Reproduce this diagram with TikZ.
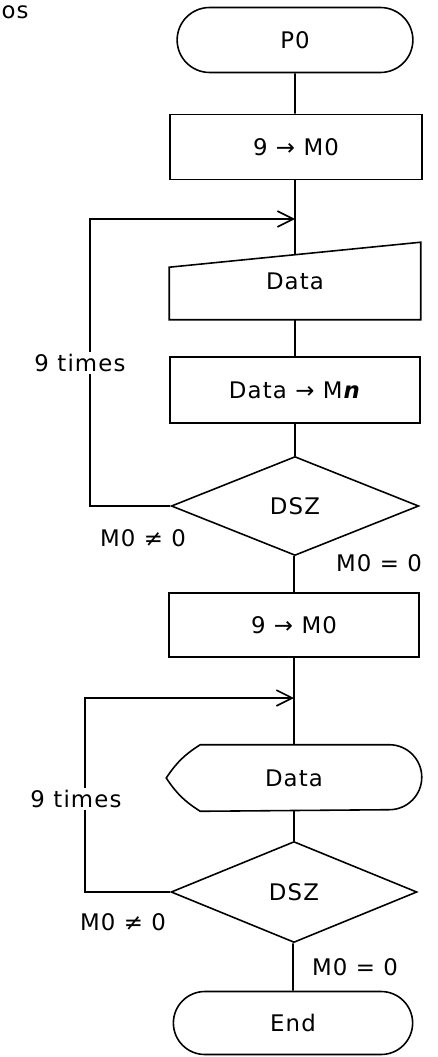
\documentclass[tikz,border=0pt]{standalone}
\usepackage{fontspec}
\setmainfont[LetterSpace=5]{DejaVu Sans}
\usetikzlibrary{arrows.meta, shapes.geometric, shapes.misc, calc}

\begin{document}
\begin{tikzpicture}[x=0.02cm, y=-0.02cm, line width=0.9pt,
    font=\fontsize{13}{15}\selectfont,
    >={Straight Barb[length=9pt, width=9pt]},
    term/.style={draw, rounded rectangle, minimum width=4.95cm, minimum height=1.3cm},
    proc/.style={draw, rectangle, minimum width=5cm, minimum height=1.3cm},
    dec/.style={draw, diamond, inner sep=0pt, minimum width=4.95cm, minimum height=1.98cm},
    lbl/.style={inner sep=1pt}]
  \useasboundingbox (0,0) rectangle (438,1057);

  % fragment of a title, cut off at the border
  \node[lbl, anchor=west] (os) at (-1,12) {os};

  % main column
  \node[term] (p0) at (295,40) {P0};
  \node[proc, minimum width=5.04cm] (set1) at (296,147) {9 → M0};
  \coordinate (j1) at (295,219);
  \node[minimum width=5cm, minimum height=1.52cm] (data1) at (295,281) {Data};
  \draw (data1.south west) -- (data1.south east) -- (data1.north east)
    -- ([yshift=-0.5cm]data1.north west) -- cycle;
  \node[proc, minimum height=1.32cm] (store) at (295,390) {Data → M\textbf{\textit{n}}};
  \node[dec] (dsz1) at (295,506) {DSZ};
  \node[proc, minimum height=1.28cm] (set2) at (294,625) {9 → M0};
  \coordinate (j2) at (294,698);
  \node[minimum width=5.08cm, minimum height=1.3cm] (data2) at (294,778) {Data};
  \draw ([xshift=0.68cm]data2.north west) -- ([xshift=-0.65cm]data2.north east)
    arc[start angle=90, end angle=-90, radius=0.65cm]
    -- ([xshift=0.68cm]data2.south west) to[bend left=12] (data2.west)
    to[bend left=12] cycle;
  \node[dec, minimum width=4.92cm, minimum height=2.02cm] (dsz2) at (294,892) {DSZ};
  \node[term, minimum width=5.02cm, minimum height=1.26cm] (end) at (293,1023) {End};

  % connectors
  \draw (p0) -- (p0 |- set1.north);
  \draw (set1.south -| j1) -- (j1) -- ([yshift=-0.25cm]data1.north);
  \draw (data1) -- (store);
  \draw (store) -- (dsz1);
  \draw (dsz1.south -| set2) -- (set2);
  \draw (set2) -- (j2) -- (data2);
  \draw (data2) -- (dsz2);
  \draw (dsz2.south -| end) -- (end);

  % loops back
  \coordinate (lp1) at (90,219);
  \coordinate (lp2) at (85,698);
  \draw[->] (dsz1.west) -| (lp1) -- (j1);
  \draw[->] (dsz2.west) -| (lp2) -- (j2);
  \node[lbl, fill=white] (n1) at (80,363) {9 times};
  \node[lbl, fill=white] (n2) at (76,799) {9 times};

  % branch labels
  \node[lbl] (ne1) at (143,538) {M0 ≠ 0};
  \node[lbl] (eq1) at (379,563) {M0 = 0};
  \node[lbl] (ne2) at (123,922) {M0 ≠ 0};
  \node[lbl] (eq2) at (355,967) {M0 = 0};
\end{tikzpicture}
\end{document}
